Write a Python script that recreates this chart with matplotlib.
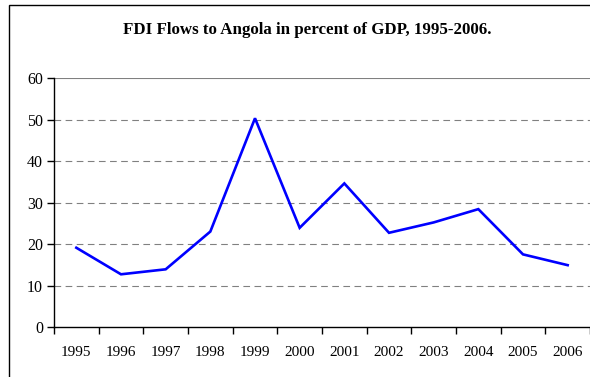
import matplotlib
matplotlib.use("Agg")
import matplotlib.pyplot as plt
from matplotlib.patches import Rectangle

years = ["1995", "1996", "1997", "1998", "1999", "2000", "2001", "2002", "2003", "2004", "2005", "2006"]
fdi_pct_gdp = [19.1, 12.7, 13.9, 23.0, 50.3, 23.9, 34.6, 22.7, 25.2, 28.4, 17.5, 14.9]
yticks = [0, 10, 20, 30, 40, 50, 60]
title = "FDI Flows to Angola in percent of GDP, 1995-2006."

plt.rcParams['font.family'] = ['Liberation Serif', 'DejaVu Serif']

fig = plt.figure(figsize=(5.9, 3.77), dpi=100)
fig.patch.set_facecolor('white')
# outer chart-area frame
fig.patches.append(Rectangle((9/590, -0.05), 1.2, 1 - 5/377 + 0.05, transform=fig.transFigure,
                             fill=False, edgecolor='black', linewidth=1.0, clip_on=False))

ax = fig.add_axes([54/590, 1 - 327/377, 1 - 54/590, (327 - 78)/377])
x = list(range(len(years)))
ax.plot(x, fdi_pct_gdp, color='#0000FF', linewidth=1.9, solid_joinstyle='miter')

ax.set_xlim(-0.5, len(years) - 0.5)
ax.set_ylim(0, 60)
ax.set_yticks(yticks)
ax.set_yticklabels([str(v) for v in yticks], fontsize=11.5)
ax.set_xticks([i - 0.5 for i in range(len(years) + 1)], minor=False)
ax.set_xticklabels([''] * (len(years) + 1))
ax.set_xticks(x, minor=True)
ax.set_xticklabels(years, minor=True, fontsize=11)
ax.tick_params(axis='x', which='minor', length=0, pad=14)
ax.tick_params(axis='x', which='major', direction='out', length=5, width=1)
ax.tick_params(axis='y', direction='out', length=5, width=1, pad=3)

for v in yticks[1:-1]:
    ax.axhline(v, color='#808080', linewidth=0.8, linestyle=(0, (6, 4)), zorder=0)
ax.axhline(60, color='#808080', linewidth=0.8, zorder=0)

ax.spines['top'].set_visible(False)
ax.spines['right'].set_visible(False)
ax.spines['left'].set_linewidth(1.0)
ax.spines['bottom'].set_linewidth(1.0)

fig.text(307/590, 1 - 30/377, title, ha='center', va='center', fontsize=12.2, fontweight='bold')

fig.savefig('out.png', dpi=100)
